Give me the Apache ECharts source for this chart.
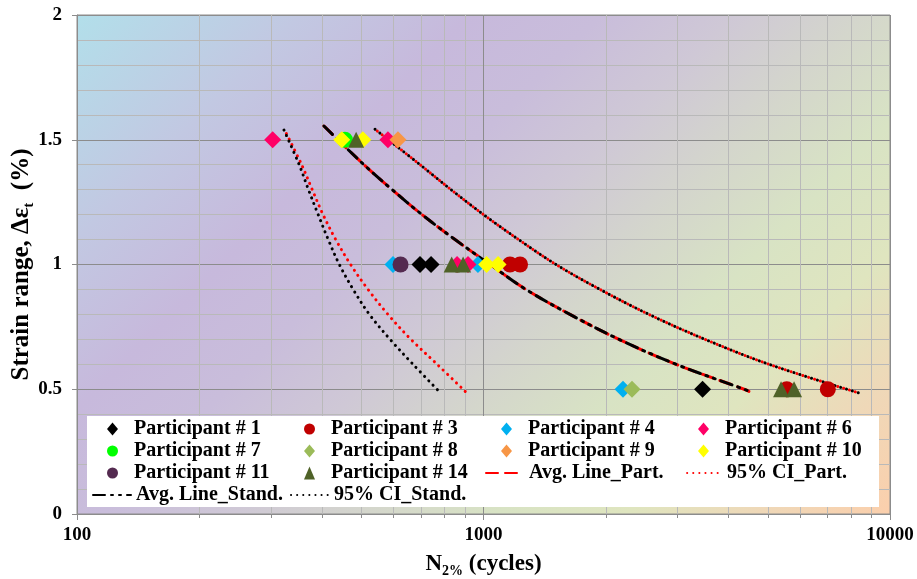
<!DOCTYPE html>
<html><head><meta charset="utf-8">
<script src="https://cdn.jsdelivr.net/npm/echarts@6/dist/echarts.min.js"></script>
<style>html,body{margin:0;padding:0;background:#fff}#c{width:917px;height:579px}</style>
</head><body><div id="c"></div>
<script>
// ---- axis ranges & ticks ----
const xMin = 100, xMax = 10000;
const yMin = 0, yMax = 2, yStep = 0.5;
const xMinorTicks = [200,300,400,500,600,700,800,900,2000,3000,4000,5000,6000,7000,8000,9000];

// ---- participant data [N cycles, strain %] ----
const p1  = [[698,1],[743,1],[3459,0.5]];
const p3  = [[1162,1],[1230,1],[5572,0.5],[7031,0.5]];
const p4  = [[599,1],[969,1],[2204,0.5]];
const p6  = [[303,1.5],[582,1.5],[861,1],[916,1]];
const p7  = [[456,1.5]];
const p8  = [[2319,0.5]];
const p9  = [[616,1.5]];
const p10 = [[448,1.5],[505,1.5],[1018,1],[1086,1]];
const p11 = [[625,1]];
const p14 = [[486,1.5],[835,1],[891,1],[5395,0.5],[5807,0.5]];

// ---- fitted lines ----
const avgPart   = [[405,1.555],[508,1.4],[596,1.3],[706,1.2],[851,1.1],[1038,1.0],[1272,0.9],[1632,0.8],[2154,0.7],[2976,0.6],[4375,0.5],[4576,0.486]];
const avgStand  = [[405,1.555],[508,1.4],[596,1.3],[706,1.2],[851,1.1],[1038,1.0],[1272,0.9],[1632,0.8],[2154,0.7],[2976,0.6],[4375,0.5],[4576,0.486]];
const ciPartLow  = [[325,1.535],[357,1.4],[379,1.3],[403,1.2],[433,1.1],[471,1.0],[520,0.9],[582,0.8],[663,0.7],[769,0.6],[906,0.488]];
const ciStandLow = [[323,1.539],[352,1.4],[371,1.3],[392,1.2],[415,1.1],[442,1.0],[478,0.9],[524,0.8],[589,0.7],[671,0.6],[779,0.49]];
const ciPartUp   = [[541,1.542],[698,1.4],[832,1.3],[1000,1.2],[1220,1.1],[1508,1.0],[1935,0.9],[2553,0.8],[3507,0.7],[5039,0.6],[8356,0.486]];
const ciStandUp  = [[541,1.542],[698,1.4],[832,1.3],[1000,1.2],[1220,1.1],[1508,1.0],[1935,0.9],[2553,0.8],[3507,0.7],[5039,0.6],[8356,0.486]];

const markerNames = ['Participant # 1','Participant # 3','Participant # 4','Participant # 6',
  'Participant # 7','Participant # 8','Participant # 9','Participant # 10',
  'Participant # 11','Participant # 14'];
const partLineNames = ['Avg. Line_Part.','95% CI_Part.'];
const standLineNames = ['Avg. Line_Stand.','95% CI_Stand.'];

const FONT = 'Liberation Serif';
const chart = echarts.init(document.getElementById('c'), null, {renderer:'canvas'});

function scatter(name, data, symbol, size, color) {
  return {name, type:'scatter', data, symbol, symbolSize:size, z:5,
    itemStyle:{color, opacity:1}, emphasis:{disabled:true}};
}
function line(name, data, color, width, dash, offset) {
  return {name, type:'line', data, symbol:'none', smooth:0.35, z:3,
    itemStyle:{color:'rgba(0,0,0,0)'},
    lineStyle:{color, width, type:dash, dashOffset:offset||0, cap:'round'},
    emphasis:{disabled:true}};
}

const bg = new echarts.graphic.LinearGradient(77, 15, 733, 671, [
  {offset:0.00, color:'#b2dfea'},
  {offset:0.17, color:'#c2c8e2'},
  {offset:0.30, color:'#c7b9dc'},
  {offset:0.40, color:'#c9bddb'},
  {offset:0.50, color:'#cfc8d6'},
  {offset:0.60, color:'#d4d6cc'},
  {offset:0.70, color:'#d8e3c4'},
  {offset:0.80, color:'#dfe5bf'},
  {offset:0.90, color:'#efd8b8'},
  {offset:1.00, color:'#fbcfac'}
], true);

const legendText = {fontFamily:FONT, fontWeight:'bold', fontSize:20, color:'#000', lineHeight:20};

const option = {
  animation:false,
  textStyle:{fontFamily:FONT},
  grid:{left:77, right:27, top:15, bottom:65, show:true, backgroundColor:bg,
    borderColor:'#8c8c8c', borderWidth:1, containLabel:false, outerBoundsMode:'none'},
  graphic:[{type:'rect', z:3, silent:true,
    shape:{x:87, y:416, width:792, height:91}, style:{fill:'#ffffff'}}],
  legend:[
    {data:markerNames, left:107, top:419, width:800, orient:'horizontal',
      padding:0, itemGap:2, itemWidth:11, itemHeight:13, z:4, selectedMode:false,
      textStyle:Object.assign({width:168, padding:[0,0,0,11]}, legendText)},
    {data:partLineNames, left:485, top:463, width:420, orient:'horizontal',
      padding:0, itemGap:2, itemWidth:38, itemHeight:12, z:4, selectedMode:false,
      textStyle:Object.assign({width:152}, legendText)},
    {data:standLineNames, left:92, top:485, width:420, orient:'horizontal',
      padding:0, itemGap:2, itemWidth:38, itemHeight:12, z:4, selectedMode:false,
      textStyle:Object.assign({width:152}, legendText)}
  ],
  xAxis:{
    type:'log', logBase:10, min:xMin, max:xMax,
    name:'{a|N}{b|2%}{a| (cycles)}', nameLocation:'middle', nameGap:36, nameMoveOverlap:false,
    nameTextStyle:{rich:{
      a:{fontFamily:FONT, fontWeight:'bold', fontSize:23, color:'#000', lineHeight:28},
      b:{fontFamily:FONT, fontWeight:'bold', fontSize:14, color:'#000', lineHeight:16, verticalAlign:'bottom'}
    }},
    axisLine:{show:true, lineStyle:{color:'#8c8c8c'}},
    axisTick:{show:true, inside:false, length:6, lineStyle:{color:'#8c8c8c'}},
    axisLabel:{fontFamily:FONT, fontWeight:'bold', fontSize:19, color:'#000', margin:12,
      formatter:v => String(Math.round(v))},
    splitLine:{show:true, lineStyle:{color:'#8c8c8c', width:1}}
  },
  yAxis:{
    type:'value', min:yMin, max:yMax, interval:yStep,
    name:'{a|Strain range, Δε}{b|t}{a|  (%)}', nameLocation:'middle', nameGap:40, nameMoveOverlap:false,
    nameTextStyle:{rich:{
      a:{fontFamily:FONT, fontWeight:'bold', fontSize:25, color:'#000', lineHeight:30},
      b:{fontFamily:FONT, fontWeight:'bold', fontSize:15, color:'#000', lineHeight:17, verticalAlign:'bottom'}
    }},
    axisLine:{show:true, lineStyle:{color:'#8c8c8c'}},
    axisTick:{show:true, inside:false, length:5, lineStyle:{color:'#8c8c8c'}},
    axisLabel:{fontFamily:FONT, fontWeight:'bold', fontSize:19, color:'#000', margin:15},
    splitLine:{show:true, lineStyle:{color:'#8c8c8c', width:1}},
    minorTick:{show:false, splitNumber:5},
    minorSplitLine:{show:true, lineStyle:{color:'#b9b9b9', width:1}}
  },
  series:[
    {type:'custom', name:'minorX', silent:true, z:1, clip:false,
      data:xMinorTicks.map(v => [v, yMin]),
      renderItem:(params, api) => {
        const v = api.value(0);
        const b = api.coord([v, yMin]);
        const t = api.coord([v, yMax]);
        const x = Math.round(b[0]) + 0.5;
        return {type:'group', children:[
          {type:'line', shape:{x1:x, y1:t[1], x2:x, y2:b[1]}, style:{stroke:'#b9b9b9', lineWidth:1}},
          {type:'line', shape:{x1:x, y1:b[1], x2:x, y2:b[1]+4}, style:{stroke:'#8c8c8c', lineWidth:1}}
        ]};
      }},
    line('Avg. Line_Part.', avgPart, '#ff0000', 3, [12,7]),
    line('95% CI_Part.', ciPartLow, '#ff0000', 3, [0.1,6], 3),
    line('95% CI_Part.', ciPartUp, '#ff0000', 3, [0.1,6], 3),
    line('Avg. Line_Stand.', avgStand, '#000000', 3, [12,6,2,6,2,6]),
    line('95% CI_Stand.', ciStandLow, '#000000', 3, [0.1,6]),
    line('95% CI_Stand.', ciStandUp, '#000000', 3, [0.1,6]),
    scatter('Participant # 1', p1, 'diamond', 17, '#000000'),
    scatter('Participant # 3', p3, 'circle', 16, '#c00000'),
    scatter('Participant # 4', p4, 'diamond', 17, '#00b0f0'),
    scatter('Participant # 6', p6, 'diamond', 17, '#ff0066'),
    scatter('Participant # 7', p7, 'circle', 16, '#00ff00'),
    scatter('Participant # 8', p8, 'diamond', 17, '#9bbb59'),
    scatter('Participant # 9', p9, 'diamond', 17, '#f79646'),
    scatter('Participant # 10', p10, 'diamond', 17, '#ffff00'),
    scatter('Participant # 11', p11, 'circle', 16, '#542a50'),
    scatter('Participant # 14', p14, 'triangle', 16, '#4f6228')
  ]
};
chart.setOption(option);
</script></body></html>
